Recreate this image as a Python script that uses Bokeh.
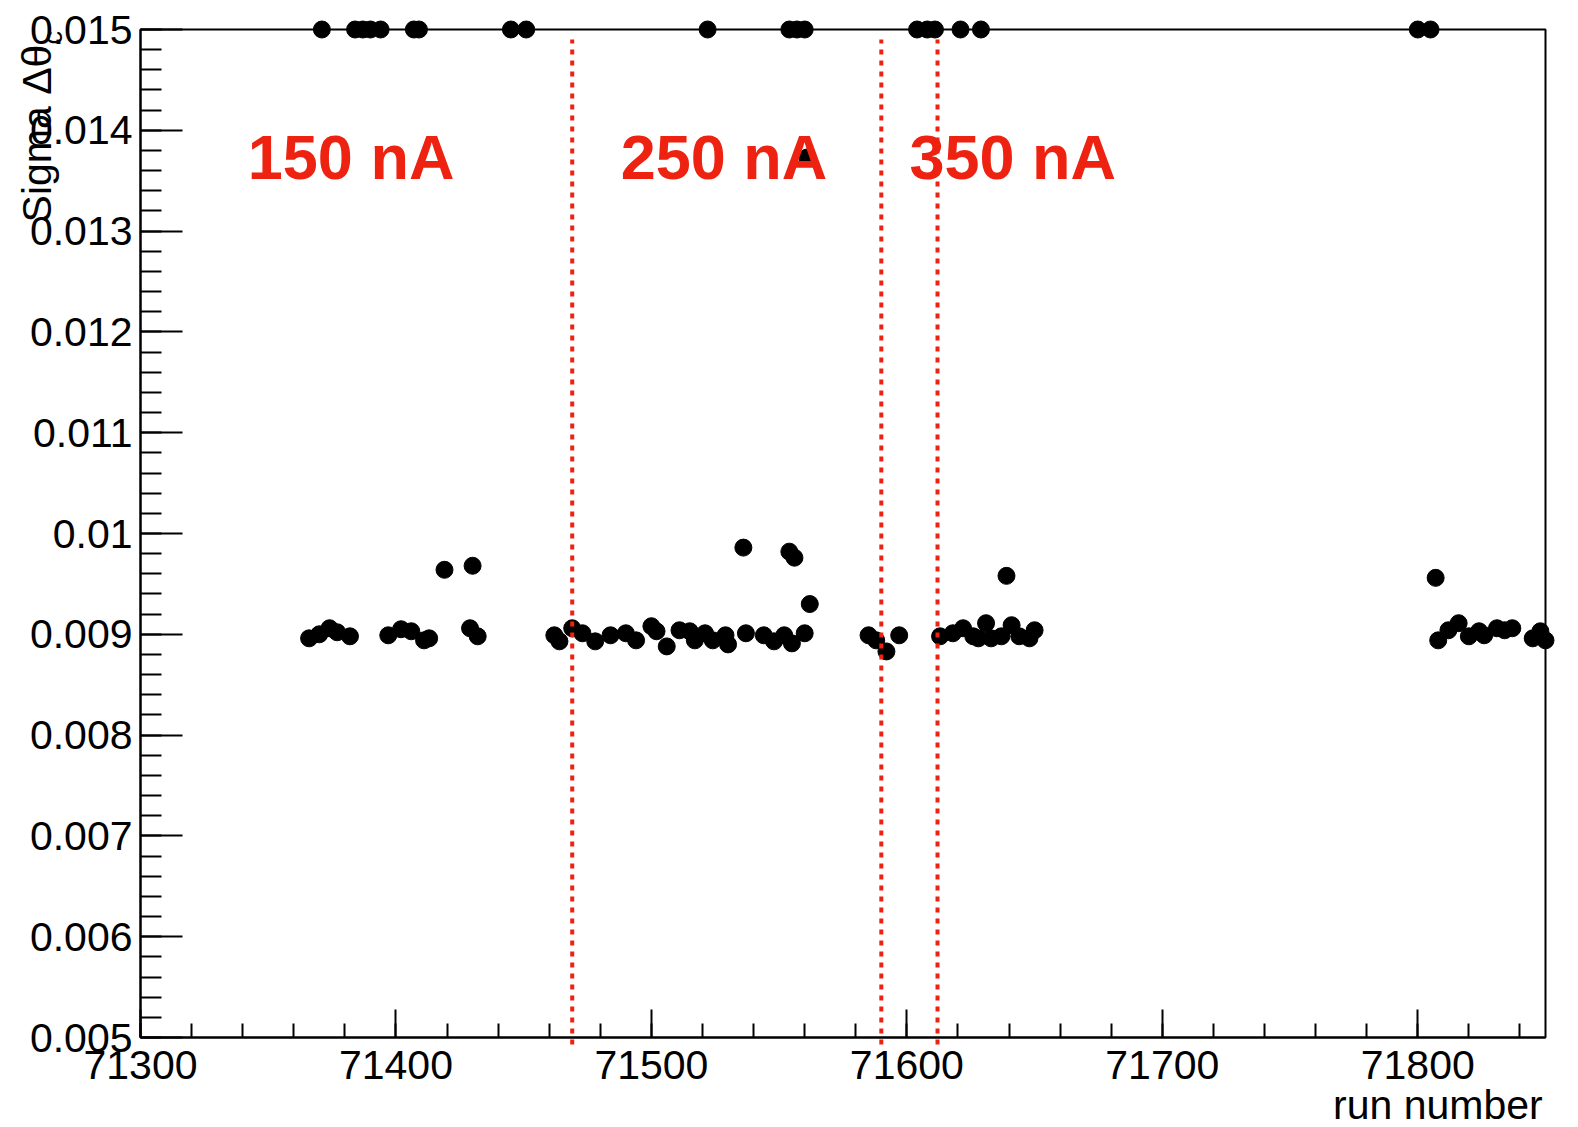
import math
from bokeh.plotting import figure
from bokeh.models import Range1d, FixedTicker, Label
from bokeh.core.properties import value
from bokeh.embed import file_html
from bokeh.resources import INLINE

# ---------------- data ----------------
# runs whose sigma sits in the ~0.009 band (and the few outliers near 0.0096-0.0099)
run_band = [71366, 71370, 71374, 71377, 71382,
            71397, 71402, 71406, 71411, 71413,
            71419, 71430, 71429, 71432,
            71462, 71464, 71469, 71473, 71478, 71484, 71490, 71494, 71500, 71502,
            71506, 71511, 71515, 71517, 71521, 71524, 71529, 71530, 71537, 71544,
            71548, 71552, 71555, 71560,
            71536, 71554, 71556, 71562,
            71585, 71588, 71592, 71597,
            71613, 71618, 71622, 71626, 71628, 71631, 71633, 71637, 71641, 71644,
            71648, 71650, 71639,
            71807, 71808, 71812, 71816, 71820, 71824, 71826, 71831, 71834, 71837,
            71845, 71848, 71850]
sigma_band = [0.00896, 0.00900, 0.00906, 0.00902, 0.00898,
              0.00899, 0.00905, 0.00903, 0.00894, 0.00896,
              0.00964, 0.00968, 0.00906, 0.00898,
              0.00899, 0.00893, 0.00906, 0.00901, 0.00893, 0.00899, 0.00901, 0.00894, 0.00908, 0.00903,
              0.00888, 0.00904, 0.00903, 0.00894, 0.00901, 0.00894, 0.00899, 0.00890, 0.00901, 0.00899,
              0.00893, 0.00899, 0.00891, 0.00901,
              0.00986, 0.00982, 0.00976, 0.00930,
              0.00899, 0.00894, 0.00883, 0.00899,
              0.00898, 0.00901, 0.00906, 0.00898, 0.00896, 0.00911, 0.00896, 0.00898, 0.00909, 0.00898,
              0.00896, 0.00904, 0.00958,
              0.00956, 0.00894, 0.00904, 0.00911, 0.00898, 0.00903, 0.00899, 0.00906, 0.00904, 0.00906,
              0.00896, 0.00903, 0.00894]

# runs whose sigma is at (or above) the top of the range
run_top = [71371, 71384, 71387, 71390, 71394, 71407, 71409, 71445, 71451, 71522,
           71554, 71557, 71560, 71604, 71608, 71611, 71621, 71629, 71800, 71805]
sigma_top = [0.015, 0.015, 0.015, 0.015, 0.015, 0.015, 0.015, 0.015, 0.015, 0.015,
             0.015, 0.015, 0.015, 0.015, 0.015, 0.015, 0.015, 0.015, 0.015, 0.015]

# one point hidden behind the "250 nA" text
run_hidden = [71561]
sigma_hidden = [0.01373]

# beam-current boundaries and labels
boundary_runs = [71469, 71590, 71612]
current_labels = ["150 nA", "250 nA", "350 nA"]

x_ticks = [71300, 71400, 71500, 71600, 71700, 71800]
x_tick_labels = ["71300", "71400", "71500", "71600", "71700", "71800"]
y_ticks = [0.005, 0.006, 0.007, 0.008, 0.009, 0.01, 0.011, 0.012, 0.013, 0.014, 0.015]
y_tick_labels = ["0.005", "0.006", "0.007", "0.008", "0.009", "0.01",
                 "0.011", "0.012", "0.013", "0.014", "0.015"]

y_title = "Sigma \u0394\u03b8"
y_title_sub = "c"
x_title = "run number"

# ---------------- figure ----------------
FONT = "Liberation Sans"
RED = "#ee2211"

p = figure(frame_width=1405, frame_height=1008,
           min_border_left=140, min_border_top=29, min_border_right=25, min_border_bottom=90,
           x_range=Range1d(71300, 71850), y_range=Range1d(0.005, 0.015),
           output_backend="svg", toolbar_location=None,
           background_fill_color="white", border_fill_color="white")
p.grid.visible = False
p.outline_line_color = "black"
p.outline_line_width = 2

x_minor = [71300 + 20 * i for i in range(28)]
y_minor = [round(0.005 + 0.0002 * i, 5) for i in range(51)]
p.xaxis.ticker = FixedTicker(ticks=x_ticks, minor_ticks=x_minor)
p.yaxis.ticker = FixedTicker(ticks=y_ticks, minor_ticks=y_minor)
p.xaxis.major_label_overrides = dict(zip(x_ticks, x_tick_labels))
p.yaxis.major_label_overrides = dict(zip(y_ticks, y_tick_labels))

for ax in (p.xaxis[0], p.yaxis[0]):
    ax.axis_line_width = 2
    ax.axis_line_color = "black"
    ax.major_tick_line_width = 2
    ax.minor_tick_line_width = 2
    ax.major_tick_line_color = "black"
    ax.minor_tick_line_color = "black"
    ax.major_tick_out = 0
    ax.minor_tick_out = 0
    ax.major_label_text_font = FONT
    ax.major_label_text_font_size = "41px"
    ax.major_label_text_color = "black"

p.xaxis.major_tick_in = 28
p.xaxis.minor_tick_in = 14
p.xaxis.major_label_standoff = 13
p.yaxis.major_tick_in = 42
p.yaxis.minor_tick_in = 21
p.yaxis.major_label_standoff = 8

# hidden point (under the text)
p.scatter(run_hidden, sigma_hidden, size=17, color="black")

# labels for beam current
label_x = [71342, 71488, 71601]
for lx, txt in zip(label_x, current_labels):
    p.add_layout(Label(x=lx, y=0.013731, text=txt, text_font=FONT, text_font_style="bold",
                       text_font_size="63px", text_color=RED,
                       text_align="left", text_baseline="alphabetic"))

# data points (drawn unclipped)
p.scatter(run_band, sigma_band, size=17, color="black", level="overlay")
p.scatter(run_top, sigma_top, size=17, color="black", level="overlay")

# dotted boundaries
p.segment(x0=boundary_runs, y0=[0.00493] * 3, x1=boundary_runs, y1=[0.0149] * 3,
          line_color=RED, line_width=4, line_dash="5 6", level="overlay")

# axis titles: text glyphs anchored at the frame corner and offset in screen pixels
p.text(x=[71300.5], y=[0.01486], text=[y_title], angle=math.pi / 2,
       x_offset=-104.8, y_offset=1,
       text_font=value(FONT), text_font_size="41px", text_color="black",
       text_align="right", text_baseline="middle", level="overlay")
p.text(x=[71300.5], y=[0.01486], text=[y_title_sub], angle=math.pi / 2,
       x_offset=-88.3, y_offset=1,
       text_font=value(FONT), text_font_size="27px", text_color="black",
       text_align="left", text_baseline="middle", level="overlay")
p.text(x=[71848.5], y=[0.00501], text=[x_title],
       x_offset=1, y_offset=69,
       text_font=value(FONT), text_font_size="41px", text_color="black",
       text_align="right", text_baseline="middle", level="overlay")

open("out.html", "w").write(file_html(p, INLINE))
